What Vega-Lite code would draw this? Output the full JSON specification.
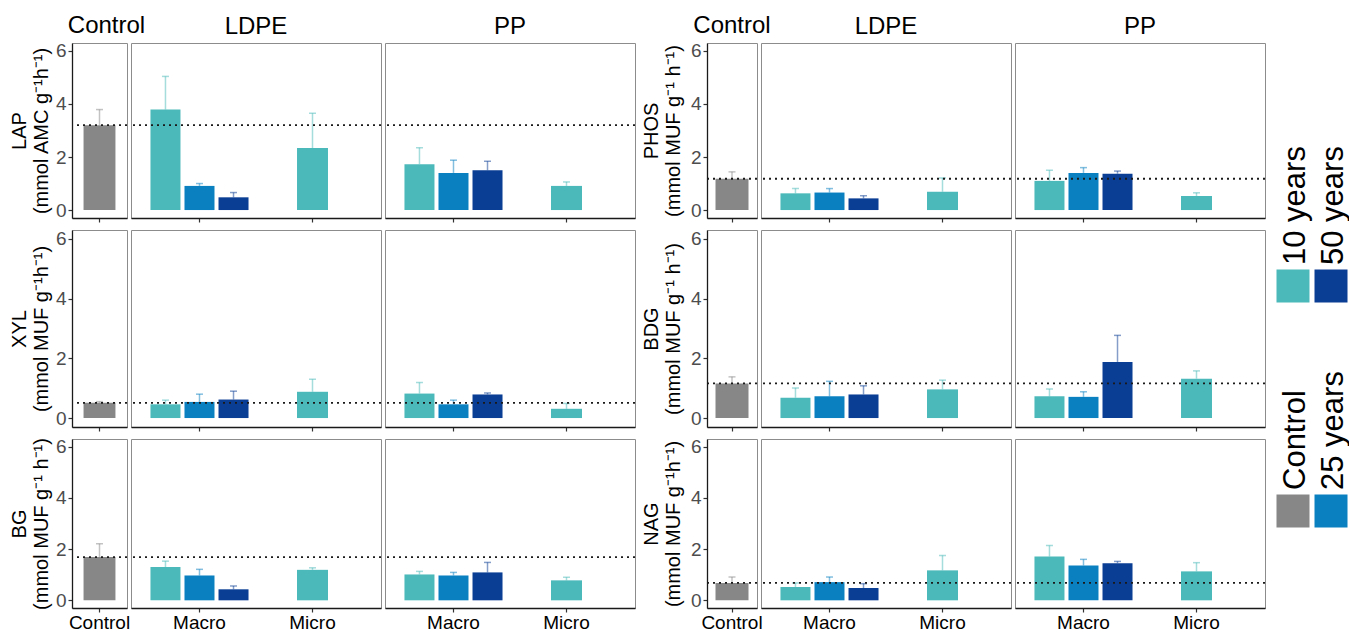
{
  "$schema": "https://vega.github.io/schema/vega-lite/v6.json",
  "padding": {"left": 8, "top": 13, "right": 0, "bottom": 0},
  "background": "white",
  "datasets": {
    "bars": [
      {"enzyme":"LAP","plastic":"Control","size":"Control","age":"Control","mean":3.2,"upper":3.79},
      {"enzyme":"LAP","plastic":"LDPE","size":"Macro","age":"10 years","mean":3.79,"upper":5.04},
      {"enzyme":"LAP","plastic":"LDPE","size":"Macro","age":"25 years","mean":0.91,"upper":1.0},
      {"enzyme":"LAP","plastic":"LDPE","size":"Macro","age":"50 years","mean":0.48,"upper":0.66},
      {"enzyme":"LAP","plastic":"LDPE","size":"Micro","age":"10 years","mean":2.34,"upper":3.65},
      {"enzyme":"LAP","plastic":"PP","size":"Macro","age":"10 years","mean":1.73,"upper":2.35},
      {"enzyme":"LAP","plastic":"PP","size":"Macro","age":"25 years","mean":1.4,"upper":1.88},
      {"enzyme":"LAP","plastic":"PP","size":"Macro","age":"50 years","mean":1.5,"upper":1.84},
      {"enzyme":"LAP","plastic":"PP","size":"Micro","age":"10 years","mean":0.91,"upper":1.06},
      {"enzyme":"PHOS","plastic":"Control","size":"Control","age":"Control","mean":1.18,"upper":1.44},
      {"enzyme":"PHOS","plastic":"LDPE","size":"Macro","age":"10 years","mean":0.63,"upper":0.81},
      {"enzyme":"PHOS","plastic":"LDPE","size":"Macro","age":"25 years","mean":0.66,"upper":0.81},
      {"enzyme":"PHOS","plastic":"LDPE","size":"Macro","age":"50 years","mean":0.44,"upper":0.54},
      {"enzyme":"PHOS","plastic":"LDPE","size":"Micro","age":"10 years","mean":0.69,"upper":1.21},
      {"enzyme":"PHOS","plastic":"PP","size":"Macro","age":"10 years","mean":1.1,"upper":1.5},
      {"enzyme":"PHOS","plastic":"PP","size":"Macro","age":"25 years","mean":1.4,"upper":1.6},
      {"enzyme":"PHOS","plastic":"PP","size":"Macro","age":"50 years","mean":1.37,"upper":1.47},
      {"enzyme":"PHOS","plastic":"PP","size":"Micro","age":"10 years","mean":0.53,"upper":0.65},
      {"enzyme":"XYL","plastic":"Control","size":"Control","age":"Control","mean":0.51,"upper":0.55},
      {"enzyme":"XYL","plastic":"LDPE","size":"Macro","age":"10 years","mean":0.46,"upper":0.6},
      {"enzyme":"XYL","plastic":"LDPE","size":"Macro","age":"25 years","mean":0.54,"upper":0.8},
      {"enzyme":"XYL","plastic":"LDPE","size":"Macro","age":"50 years","mean":0.62,"upper":0.9},
      {"enzyme":"XYL","plastic":"LDPE","size":"Micro","age":"10 years","mean":0.88,"upper":1.3},
      {"enzyme":"XYL","plastic":"PP","size":"Macro","age":"10 years","mean":0.82,"upper":1.19},
      {"enzyme":"XYL","plastic":"PP","size":"Macro","age":"25 years","mean":0.46,"upper":0.6},
      {"enzyme":"XYL","plastic":"PP","size":"Macro","age":"50 years","mean":0.79,"upper":0.84},
      {"enzyme":"XYL","plastic":"PP","size":"Micro","age":"10 years","mean":0.31,"upper":0.49},
      {"enzyme":"BDG","plastic":"Control","size":"Control","age":"Control","mean":1.16,"upper":1.38},
      {"enzyme":"BDG","plastic":"LDPE","size":"Macro","age":"10 years","mean":0.68,"upper":1.01},
      {"enzyme":"BDG","plastic":"LDPE","size":"Macro","age":"25 years","mean":0.73,"upper":1.23},
      {"enzyme":"BDG","plastic":"LDPE","size":"Macro","age":"50 years","mean":0.79,"upper":1.08},
      {"enzyme":"BDG","plastic":"LDPE","size":"Micro","age":"10 years","mean":0.96,"upper":1.27},
      {"enzyme":"BDG","plastic":"PP","size":"Macro","age":"10 years","mean":0.73,"upper":0.97},
      {"enzyme":"BDG","plastic":"PP","size":"Macro","age":"25 years","mean":0.71,"upper":0.88},
      {"enzyme":"BDG","plastic":"PP","size":"Macro","age":"50 years","mean":1.88,"upper":2.77},
      {"enzyme":"BDG","plastic":"PP","size":"Micro","age":"10 years","mean":1.32,"upper":1.58},
      {"enzyme":"BG","plastic":"Control","size":"Control","age":"Control","mean":1.69,"upper":2.21},
      {"enzyme":"BG","plastic":"LDPE","size":"Macro","age":"10 years","mean":1.3,"upper":1.53},
      {"enzyme":"BG","plastic":"LDPE","size":"Macro","age":"25 years","mean":0.97,"upper":1.21},
      {"enzyme":"BG","plastic":"LDPE","size":"Macro","age":"50 years","mean":0.43,"upper":0.56},
      {"enzyme":"BG","plastic":"LDPE","size":"Micro","age":"10 years","mean":1.19,"upper":1.27},
      {"enzyme":"BG","plastic":"PP","size":"Macro","age":"10 years","mean":1.01,"upper":1.13},
      {"enzyme":"BG","plastic":"PP","size":"Macro","age":"25 years","mean":0.97,"upper":1.09},
      {"enzyme":"BG","plastic":"PP","size":"Macro","age":"50 years","mean":1.09,"upper":1.48},
      {"enzyme":"BG","plastic":"PP","size":"Micro","age":"10 years","mean":0.78,"upper":0.9},
      {"enzyme":"NAG","plastic":"Control","size":"Control","age":"Control","mean":0.68,"upper":0.91},
      {"enzyme":"NAG","plastic":"LDPE","size":"Macro","age":"10 years","mean":0.52,"upper":0.68},
      {"enzyme":"NAG","plastic":"LDPE","size":"Macro","age":"25 years","mean":0.71,"upper":0.91},
      {"enzyme":"NAG","plastic":"LDPE","size":"Macro","age":"50 years","mean":0.48,"upper":0.65},
      {"enzyme":"NAG","plastic":"LDPE","size":"Micro","age":"10 years","mean":1.17,"upper":1.75},
      {"enzyme":"NAG","plastic":"PP","size":"Macro","age":"10 years","mean":1.71,"upper":2.14},
      {"enzyme":"NAG","plastic":"PP","size":"Macro","age":"25 years","mean":1.36,"upper":1.6},
      {"enzyme":"NAG","plastic":"PP","size":"Macro","age":"50 years","mean":1.45,"upper":1.52},
      {"enzyme":"NAG","plastic":"PP","size":"Micro","age":"10 years","mean":1.13,"upper":1.47}
    ],
    "legend": [
      {"age":"10 years"},
      {"age":"50 years"},
      {"age":"Control"},
      {"age":"25 years"}
    ]
  },
  "columns": 8,
  "bounds": "flush",
  "spacing": {"row": 12, "column": 4},
  "resolve": {"scale": {"xOffset": "independent", "color": "shared"}},
  "concat": [
    {
      "title": {"text": "Control", "dx": 7},
      "width": 55, "height": 175,
      "data": {"name": "bars"},
      "transform": [{"filter": "datum.enzyme == 'LAP' && datum.plastic == 'Control'"}],
      "encoding": {"y": {"field": "mean", "type": "quantitative", "scale": {"domain": [-0.3, 6.3], "nice": false, "zero": false}, "axis": {"title": ["LAP", "(mmol AMC g⁻¹h⁻¹)"], "values": [0, 2, 4, 6]}}},
      "layer": [
        {"encoding": {"x": {"field": "size", "type": "nominal", "title": null, "scale": {"domain": ["Control"], "paddingInner": 0, "paddingOuter": 0}, "axis": {"labels": false}},
                      "color": {"field": "age", "type": "nominal", "scale": {"domain": ["Control","10 years","25 years","50 years"], "range": ["#878787","#4BB9BA","#0A80C1","#0A3D94"]}, "legend": null}},
         "layer": [
           {"mark": {"type": "bar", "width": {"band": 0.58}}, "encoding": {"y2": {"datum": 0}}},
           {"mark": {"type": "rule", "strokeWidth": 1.5, "opacity": 0.5}, "encoding": {"y2": {"field": "upper"}}},
           {"mark": {"type": "tick", "size": 7, "thickness": 1.5, "opacity": 0.5}, "encoding": {"y": {"field": "upper", "type": "quantitative", "scale": {"domain": [-0.3, 6.3], "nice": false, "zero": false}, "axis": {"title": ["LAP", "(mmol AMC g⁻¹h⁻¹)"], "values": [0, 2, 4, 6]}}}}
         ]},
        {"mark": {"type": "rule", "strokeDash": [2, 4], "strokeWidth": 1.8, "color": "#1a1a1a"}, "encoding": {}}
      ]
    },
    {
      "title": "LDPE",
      "width": 250, "height": 175,
      "data": {"name": "bars"},
      "encoding": {"y": {"field": "mean", "type": "quantitative", "scale": {"domain": [-0.3, 6.3], "nice": false, "zero": false}, "axis": null}},
      "layer": [
        {"transform": [{"filter": "datum.enzyme == 'LAP' && datum.plastic == 'LDPE'"}],
         "encoding": {"x": {"field": "size", "type": "nominal", "title": null, "scale": {"domain": ["Macro","Micro"], "paddingInner": 0, "paddingOuter": 0.106}, "axis": {"labels": false}},
                      "color": {"field": "age", "type": "nominal", "scale": {"domain": ["Control","10 years","25 years","50 years"], "range": ["#878787","#4BB9BA","#0A80C1","#0A3D94"]}, "legend": null}},
         "layer": [
           {"transform": [{"filter": "datum.size == 'Macro'"}],
            "encoding": {"xOffset": {"field": "age", "type": "nominal", "scale": {"domain": ["10 years","25 years","50 years"], "paddingInner": 0.118, "paddingOuter": 0.22}}},
            "layer": [
              {"mark": {"type": "bar"}, "encoding": {"y2": {"datum": 0}}},
              {"mark": {"type": "rule", "strokeWidth": 1.5, "opacity": 0.5}, "encoding": {"y2": {"field": "upper"}}},
              {"mark": {"type": "tick", "size": 7, "thickness": 1.5, "opacity": 0.5}, "encoding": {"y": {"field": "upper", "type": "quantitative", "scale": {"domain": [-0.3, 6.3], "nice": false, "zero": false}, "axis": null}}}
            ]},
           {"transform": [{"filter": "datum.size == 'Micro'"}],
            "layer": [
              {"mark": {"type": "bar", "width": {"band": 0.274}}, "encoding": {"y2": {"datum": 0}}},
              {"mark": {"type": "rule", "strokeWidth": 1.5, "opacity": 0.5}, "encoding": {"y2": {"field": "upper"}}},
              {"mark": {"type": "tick", "size": 7, "thickness": 1.5, "opacity": 0.5}, "encoding": {"y": {"field": "upper", "type": "quantitative", "scale": {"domain": [-0.3, 6.3], "nice": false, "zero": false}, "axis": null}}}
            ]}
         ]},
        {"transform": [{"filter": "datum.enzyme == 'LAP' && datum.plastic == 'Control'"}],
         "mark": {"type": "rule", "strokeDash": [2, 4], "strokeWidth": 1.8, "color": "#1a1a1a"}, "encoding": {}}
      ]
    },
    {
      "title": "PP",
      "width": 250, "height": 175,
      "data": {"name": "bars"},
      "encoding": {"y": {"field": "mean", "type": "quantitative", "scale": {"domain": [-0.3, 6.3], "nice": false, "zero": false}, "axis": null}},
      "layer": [
        {"transform": [{"filter": "datum.enzyme == 'LAP' && datum.plastic == 'PP'"}],
         "encoding": {"x": {"field": "size", "type": "nominal", "title": null, "scale": {"domain": ["Macro","Micro"], "paddingInner": 0, "paddingOuter": 0.106}, "axis": {"labels": false}},
                      "color": {"field": "age", "type": "nominal", "scale": {"domain": ["Control","10 years","25 years","50 years"], "range": ["#878787","#4BB9BA","#0A80C1","#0A3D94"]}, "legend": null}},
         "layer": [
           {"transform": [{"filter": "datum.size == 'Macro'"}],
            "encoding": {"xOffset": {"field": "age", "type": "nominal", "scale": {"domain": ["10 years","25 years","50 years"], "paddingInner": 0.118, "paddingOuter": 0.22}}},
            "layer": [
              {"mark": {"type": "bar"}, "encoding": {"y2": {"datum": 0}}},
              {"mark": {"type": "rule", "strokeWidth": 1.5, "opacity": 0.5}, "encoding": {"y2": {"field": "upper"}}},
              {"mark": {"type": "tick", "size": 7, "thickness": 1.5, "opacity": 0.5}, "encoding": {"y": {"field": "upper", "type": "quantitative", "scale": {"domain": [-0.3, 6.3], "nice": false, "zero": false}, "axis": null}}}
            ]},
           {"transform": [{"filter": "datum.size == 'Micro'"}],
            "layer": [
              {"mark": {"type": "bar", "width": {"band": 0.274}}, "encoding": {"y2": {"datum": 0}}},
              {"mark": {"type": "rule", "strokeWidth": 1.5, "opacity": 0.5}, "encoding": {"y2": {"field": "upper"}}},
              {"mark": {"type": "tick", "size": 7, "thickness": 1.5, "opacity": 0.5}, "encoding": {"y": {"field": "upper", "type": "quantitative", "scale": {"domain": [-0.3, 6.3], "nice": false, "zero": false}, "axis": null}}}
            ]}
         ]},
        {"transform": [{"filter": "datum.enzyme == 'LAP' && datum.plastic == 'Control'"}],
         "mark": {"type": "rule", "strokeDash": [2, 4], "strokeWidth": 1.8, "color": "#1a1a1a"}, "encoding": {}}
      ]
    },
    {"width": 64, "height": 20, "view": {"stroke": null}, "data": {"values": []}, "mark": {"type": "point", "opacity": 0}, "encoding": {}},
    {
      "title": "Control",
      "width": 50, "height": 175,
      "data": {"name": "bars"},
      "transform": [{"filter": "datum.enzyme == 'PHOS' && datum.plastic == 'Control'"}],
      "encoding": {"y": {"field": "mean", "type": "quantitative", "scale": {"domain": [-0.3, 6.3], "nice": false, "zero": false}, "axis": {"title": ["PHOS", "(mmol MUF g⁻¹ h⁻¹)"], "values": [0, 2, 4, 6], "titlePadding": 7}}},
      "layer": [
        {"encoding": {"x": {"field": "size", "type": "nominal", "title": null, "scale": {"domain": ["Control"], "paddingInner": 0, "paddingOuter": 0}, "axis": {"labels": false}},
                      "color": {"field": "age", "type": "nominal", "scale": {"domain": ["Control","10 years","25 years","50 years"], "range": ["#878787","#4BB9BA","#0A80C1","#0A3D94"]}, "legend": null}},
         "layer": [
           {"mark": {"type": "bar", "width": {"band": 0.66}}, "encoding": {"y2": {"datum": 0}}},
           {"mark": {"type": "rule", "strokeWidth": 1.5, "opacity": 0.5}, "encoding": {"y2": {"field": "upper"}}},
           {"mark": {"type": "tick", "size": 7, "thickness": 1.5, "opacity": 0.5}, "encoding": {"y": {"field": "upper", "type": "quantitative", "scale": {"domain": [-0.3, 6.3], "nice": false, "zero": false}, "axis": {"title": ["PHOS", "(mmol MUF g⁻¹ h⁻¹)"], "values": [0, 2, 4, 6], "titlePadding": 7}}}}
         ]},
        {"mark": {"type": "rule", "strokeDash": [2, 4], "strokeWidth": 1.8, "color": "#1a1a1a"}, "encoding": {}}
      ]
    },
    {
      "title": "LDPE",
      "width": 250, "height": 175,
      "data": {"name": "bars"},
      "encoding": {"y": {"field": "mean", "type": "quantitative", "scale": {"domain": [-0.3, 6.3], "nice": false, "zero": false}, "axis": null}},
      "layer": [
        {"transform": [{"filter": "datum.enzyme == 'PHOS' && datum.plastic == 'LDPE'"}],
         "encoding": {"x": {"field": "size", "type": "nominal", "title": null, "scale": {"domain": ["Macro","Micro"], "paddingInner": 0, "paddingOuter": 0.106}, "axis": {"labels": false}},
                      "color": {"field": "age", "type": "nominal", "scale": {"domain": ["Control","10 years","25 years","50 years"], "range": ["#878787","#4BB9BA","#0A80C1","#0A3D94"]}, "legend": null}},
         "layer": [
           {"transform": [{"filter": "datum.size == 'Macro'"}],
            "encoding": {"xOffset": {"field": "age", "type": "nominal", "scale": {"domain": ["10 years","25 years","50 years"], "paddingInner": 0.118, "paddingOuter": 0.22}}},
            "layer": [
              {"mark": {"type": "bar"}, "encoding": {"y2": {"datum": 0}}},
              {"mark": {"type": "rule", "strokeWidth": 1.5, "opacity": 0.5}, "encoding": {"y2": {"field": "upper"}}},
              {"mark": {"type": "tick", "size": 7, "thickness": 1.5, "opacity": 0.5}, "encoding": {"y": {"field": "upper", "type": "quantitative", "scale": {"domain": [-0.3, 6.3], "nice": false, "zero": false}, "axis": null}}}
            ]},
           {"transform": [{"filter": "datum.size == 'Micro'"}],
            "layer": [
              {"mark": {"type": "bar", "width": {"band": 0.274}}, "encoding": {"y2": {"datum": 0}}},
              {"mark": {"type": "rule", "strokeWidth": 1.5, "opacity": 0.5}, "encoding": {"y2": {"field": "upper"}}},
              {"mark": {"type": "tick", "size": 7, "thickness": 1.5, "opacity": 0.5}, "encoding": {"y": {"field": "upper", "type": "quantitative", "scale": {"domain": [-0.3, 6.3], "nice": false, "zero": false}, "axis": null}}}
            ]}
         ]},
        {"transform": [{"filter": "datum.enzyme == 'PHOS' && datum.plastic == 'Control'"}],
         "mark": {"type": "rule", "strokeDash": [2, 4], "strokeWidth": 1.8, "color": "#1a1a1a"}, "encoding": {}}
      ]
    },
    {
      "title": "PP",
      "width": 250, "height": 175,
      "data": {"name": "bars"},
      "encoding": {"y": {"field": "mean", "type": "quantitative", "scale": {"domain": [-0.3, 6.3], "nice": false, "zero": false}, "axis": null}},
      "layer": [
        {"transform": [{"filter": "datum.enzyme == 'PHOS' && datum.plastic == 'PP'"}],
         "encoding": {"x": {"field": "size", "type": "nominal", "title": null, "scale": {"domain": ["Macro","Micro"], "paddingInner": 0, "paddingOuter": 0.106}, "axis": {"labels": false}},
                      "color": {"field": "age", "type": "nominal", "scale": {"domain": ["Control","10 years","25 years","50 years"], "range": ["#878787","#4BB9BA","#0A80C1","#0A3D94"]}, "legend": null}},
         "layer": [
           {"transform": [{"filter": "datum.size == 'Macro'"}],
            "encoding": {"xOffset": {"field": "age", "type": "nominal", "scale": {"domain": ["10 years","25 years","50 years"], "paddingInner": 0.118, "paddingOuter": 0.22}}},
            "layer": [
              {"mark": {"type": "bar"}, "encoding": {"y2": {"datum": 0}}},
              {"mark": {"type": "rule", "strokeWidth": 1.5, "opacity": 0.5}, "encoding": {"y2": {"field": "upper"}}},
              {"mark": {"type": "tick", "size": 7, "thickness": 1.5, "opacity": 0.5}, "encoding": {"y": {"field": "upper", "type": "quantitative", "scale": {"domain": [-0.3, 6.3], "nice": false, "zero": false}, "axis": null}}}
            ]},
           {"transform": [{"filter": "datum.size == 'Micro'"}],
            "layer": [
              {"mark": {"type": "bar", "width": {"band": 0.274}}, "encoding": {"y2": {"datum": 0}}},
              {"mark": {"type": "rule", "strokeWidth": 1.5, "opacity": 0.5}, "encoding": {"y2": {"field": "upper"}}},
              {"mark": {"type": "tick", "size": 7, "thickness": 1.5, "opacity": 0.5}, "encoding": {"y": {"field": "upper", "type": "quantitative", "scale": {"domain": [-0.3, 6.3], "nice": false, "zero": false}, "axis": null}}}
            ]}
         ]},
        {"transform": [{"filter": "datum.enzyme == 'PHOS' && datum.plastic == 'Control'"}],
         "mark": {"type": "rule", "strokeDash": [2, 4], "strokeWidth": 1.8, "color": "#1a1a1a"}, "encoding": {}}
      ]
    },
    {"width": 78, "height": 20, "view": {"stroke": null}, "data": {"values": []}, "mark": {"type": "point", "opacity": 0}, "encoding": {}},

    {
      "width": 55, "height": 197,
      "data": {"name": "bars"},
      "transform": [{"filter": "datum.enzyme == 'XYL' && datum.plastic == 'Control'"}],
      "encoding": {"y": {"field": "mean", "type": "quantitative", "scale": {"domain": [-0.3, 6.3], "nice": false, "zero": false}, "axis": {"title": ["XYL", "(mmol MUF g⁻¹h⁻¹)"], "values": [0, 2, 4, 6]}}},
      "layer": [
        {"encoding": {"x": {"field": "size", "type": "nominal", "title": null, "scale": {"domain": ["Control"], "paddingInner": 0, "paddingOuter": 0}, "axis": {"labels": false}},
                      "color": {"field": "age", "type": "nominal", "scale": {"domain": ["Control","10 years","25 years","50 years"], "range": ["#878787","#4BB9BA","#0A80C1","#0A3D94"]}, "legend": null}},
         "layer": [
           {"mark": {"type": "bar", "width": {"band": 0.58}}, "encoding": {"y2": {"datum": 0}}},
           {"mark": {"type": "rule", "strokeWidth": 1.5, "opacity": 0.5}, "encoding": {"y2": {"field": "upper"}}},
           {"mark": {"type": "tick", "size": 7, "thickness": 1.5, "opacity": 0.5}, "encoding": {"y": {"field": "upper", "type": "quantitative", "scale": {"domain": [-0.3, 6.3], "nice": false, "zero": false}, "axis": {"title": ["XYL", "(mmol MUF g⁻¹h⁻¹)"], "values": [0, 2, 4, 6]}}}}
         ]},
        {"mark": {"type": "rule", "strokeDash": [2, 4], "strokeWidth": 1.8, "color": "#1a1a1a"}, "encoding": {}}
      ]
    },
    {
      "width": 250, "height": 197,
      "data": {"name": "bars"},
      "encoding": {"y": {"field": "mean", "type": "quantitative", "scale": {"domain": [-0.3, 6.3], "nice": false, "zero": false}, "axis": null}},
      "layer": [
        {"transform": [{"filter": "datum.enzyme == 'XYL' && datum.plastic == 'LDPE'"}],
         "encoding": {"x": {"field": "size", "type": "nominal", "title": null, "scale": {"domain": ["Macro","Micro"], "paddingInner": 0, "paddingOuter": 0.106}, "axis": {"labels": false}},
                      "color": {"field": "age", "type": "nominal", "scale": {"domain": ["Control","10 years","25 years","50 years"], "range": ["#878787","#4BB9BA","#0A80C1","#0A3D94"]}, "legend": null}},
         "layer": [
           {"transform": [{"filter": "datum.size == 'Macro'"}],
            "encoding": {"xOffset": {"field": "age", "type": "nominal", "scale": {"domain": ["10 years","25 years","50 years"], "paddingInner": 0.118, "paddingOuter": 0.22}}},
            "layer": [
              {"mark": {"type": "bar"}, "encoding": {"y2": {"datum": 0}}},
              {"mark": {"type": "rule", "strokeWidth": 1.5, "opacity": 0.5}, "encoding": {"y2": {"field": "upper"}}},
              {"mark": {"type": "tick", "size": 7, "thickness": 1.5, "opacity": 0.5}, "encoding": {"y": {"field": "upper", "type": "quantitative", "scale": {"domain": [-0.3, 6.3], "nice": false, "zero": false}, "axis": null}}}
            ]},
           {"transform": [{"filter": "datum.size == 'Micro'"}],
            "layer": [
              {"mark": {"type": "bar", "width": {"band": 0.274}}, "encoding": {"y2": {"datum": 0}}},
              {"mark": {"type": "rule", "strokeWidth": 1.5, "opacity": 0.5}, "encoding": {"y2": {"field": "upper"}}},
              {"mark": {"type": "tick", "size": 7, "thickness": 1.5, "opacity": 0.5}, "encoding": {"y": {"field": "upper", "type": "quantitative", "scale": {"domain": [-0.3, 6.3], "nice": false, "zero": false}, "axis": null}}}
            ]}
         ]},
        {"transform": [{"filter": "datum.enzyme == 'XYL' && datum.plastic == 'Control'"}],
         "mark": {"type": "rule", "strokeDash": [2, 4], "strokeWidth": 1.8, "color": "#1a1a1a"}, "encoding": {}}
      ]
    },
    {
      "width": 250, "height": 197,
      "data": {"name": "bars"},
      "encoding": {"y": {"field": "mean", "type": "quantitative", "scale": {"domain": [-0.3, 6.3], "nice": false, "zero": false}, "axis": null}},
      "layer": [
        {"transform": [{"filter": "datum.enzyme == 'XYL' && datum.plastic == 'PP'"}],
         "encoding": {"x": {"field": "size", "type": "nominal", "title": null, "scale": {"domain": ["Macro","Micro"], "paddingInner": 0, "paddingOuter": 0.106}, "axis": {"labels": false}},
                      "color": {"field": "age", "type": "nominal", "scale": {"domain": ["Control","10 years","25 years","50 years"], "range": ["#878787","#4BB9BA","#0A80C1","#0A3D94"]}, "legend": null}},
         "layer": [
           {"transform": [{"filter": "datum.size == 'Macro'"}],
            "encoding": {"xOffset": {"field": "age", "type": "nominal", "scale": {"domain": ["10 years","25 years","50 years"], "paddingInner": 0.118, "paddingOuter": 0.22}}},
            "layer": [
              {"mark": {"type": "bar"}, "encoding": {"y2": {"datum": 0}}},
              {"mark": {"type": "rule", "strokeWidth": 1.5, "opacity": 0.5}, "encoding": {"y2": {"field": "upper"}}},
              {"mark": {"type": "tick", "size": 7, "thickness": 1.5, "opacity": 0.5}, "encoding": {"y": {"field": "upper", "type": "quantitative", "scale": {"domain": [-0.3, 6.3], "nice": false, "zero": false}, "axis": null}}}
            ]},
           {"transform": [{"filter": "datum.size == 'Micro'"}],
            "layer": [
              {"mark": {"type": "bar", "width": {"band": 0.274}}, "encoding": {"y2": {"datum": 0}}},
              {"mark": {"type": "rule", "strokeWidth": 1.5, "opacity": 0.5}, "encoding": {"y2": {"field": "upper"}}},
              {"mark": {"type": "tick", "size": 7, "thickness": 1.5, "opacity": 0.5}, "encoding": {"y": {"field": "upper", "type": "quantitative", "scale": {"domain": [-0.3, 6.3], "nice": false, "zero": false}, "axis": null}}}
            ]}
         ]},
        {"transform": [{"filter": "datum.enzyme == 'XYL' && datum.plastic == 'Control'"}],
         "mark": {"type": "rule", "strokeDash": [2, 4], "strokeWidth": 1.8, "color": "#1a1a1a"}, "encoding": {}}
      ]
    },
    {"width": 64, "height": 20, "view": {"stroke": null}, "data": {"values": []}, "mark": {"type": "point", "opacity": 0}, "encoding": {}},
    {
      "width": 50, "height": 197,
      "data": {"name": "bars"},
      "transform": [{"filter": "datum.enzyme == 'BDG' && datum.plastic == 'Control'"}],
      "encoding": {"y": {"field": "mean", "type": "quantitative", "scale": {"domain": [-0.3, 6.3], "nice": false, "zero": false}, "axis": {"title": ["BDG", "(mmol MUF g⁻¹ h⁻¹)"], "values": [0, 2, 4, 6], "titlePadding": 7}}},
      "layer": [
        {"encoding": {"x": {"field": "size", "type": "nominal", "title": null, "scale": {"domain": ["Control"], "paddingInner": 0, "paddingOuter": 0}, "axis": {"labels": false}},
                      "color": {"field": "age", "type": "nominal", "scale": {"domain": ["Control","10 years","25 years","50 years"], "range": ["#878787","#4BB9BA","#0A80C1","#0A3D94"]}, "legend": null}},
         "layer": [
           {"mark": {"type": "bar", "width": {"band": 0.66}}, "encoding": {"y2": {"datum": 0}}},
           {"mark": {"type": "rule", "strokeWidth": 1.5, "opacity": 0.5}, "encoding": {"y2": {"field": "upper"}}},
           {"mark": {"type": "tick", "size": 7, "thickness": 1.5, "opacity": 0.5}, "encoding": {"y": {"field": "upper", "type": "quantitative", "scale": {"domain": [-0.3, 6.3], "nice": false, "zero": false}, "axis": {"title": ["BDG", "(mmol MUF g⁻¹ h⁻¹)"], "values": [0, 2, 4, 6], "titlePadding": 7}}}}
         ]},
        {"mark": {"type": "rule", "strokeDash": [2, 4], "strokeWidth": 1.8, "color": "#1a1a1a"}, "encoding": {}}
      ]
    },
    {
      "width": 250, "height": 197,
      "data": {"name": "bars"},
      "encoding": {"y": {"field": "mean", "type": "quantitative", "scale": {"domain": [-0.3, 6.3], "nice": false, "zero": false}, "axis": null}},
      "layer": [
        {"transform": [{"filter": "datum.enzyme == 'BDG' && datum.plastic == 'LDPE'"}],
         "encoding": {"x": {"field": "size", "type": "nominal", "title": null, "scale": {"domain": ["Macro","Micro"], "paddingInner": 0, "paddingOuter": 0.106}, "axis": {"labels": false}},
                      "color": {"field": "age", "type": "nominal", "scale": {"domain": ["Control","10 years","25 years","50 years"], "range": ["#878787","#4BB9BA","#0A80C1","#0A3D94"]}, "legend": null}},
         "layer": [
           {"transform": [{"filter": "datum.size == 'Macro'"}],
            "encoding": {"xOffset": {"field": "age", "type": "nominal", "scale": {"domain": ["10 years","25 years","50 years"], "paddingInner": 0.118, "paddingOuter": 0.22}}},
            "layer": [
              {"mark": {"type": "bar"}, "encoding": {"y2": {"datum": 0}}},
              {"mark": {"type": "rule", "strokeWidth": 1.5, "opacity": 0.5}, "encoding": {"y2": {"field": "upper"}}},
              {"mark": {"type": "tick", "size": 7, "thickness": 1.5, "opacity": 0.5}, "encoding": {"y": {"field": "upper", "type": "quantitative", "scale": {"domain": [-0.3, 6.3], "nice": false, "zero": false}, "axis": null}}}
            ]},
           {"transform": [{"filter": "datum.size == 'Micro'"}],
            "layer": [
              {"mark": {"type": "bar", "width": {"band": 0.274}}, "encoding": {"y2": {"datum": 0}}},
              {"mark": {"type": "rule", "strokeWidth": 1.5, "opacity": 0.5}, "encoding": {"y2": {"field": "upper"}}},
              {"mark": {"type": "tick", "size": 7, "thickness": 1.5, "opacity": 0.5}, "encoding": {"y": {"field": "upper", "type": "quantitative", "scale": {"domain": [-0.3, 6.3], "nice": false, "zero": false}, "axis": null}}}
            ]}
         ]},
        {"transform": [{"filter": "datum.enzyme == 'BDG' && datum.plastic == 'Control'"}],
         "mark": {"type": "rule", "strokeDash": [2, 4], "strokeWidth": 1.8, "color": "#1a1a1a"}, "encoding": {}}
      ]
    },
    {
      "width": 250, "height": 197,
      "data": {"name": "bars"},
      "encoding": {"y": {"field": "mean", "type": "quantitative", "scale": {"domain": [-0.3, 6.3], "nice": false, "zero": false}, "axis": null}},
      "layer": [
        {"transform": [{"filter": "datum.enzyme == 'BDG' && datum.plastic == 'PP'"}],
         "encoding": {"x": {"field": "size", "type": "nominal", "title": null, "scale": {"domain": ["Macro","Micro"], "paddingInner": 0, "paddingOuter": 0.106}, "axis": {"labels": false}},
                      "color": {"field": "age", "type": "nominal", "scale": {"domain": ["Control","10 years","25 years","50 years"], "range": ["#878787","#4BB9BA","#0A80C1","#0A3D94"]}, "legend": null}},
         "layer": [
           {"transform": [{"filter": "datum.size == 'Macro'"}],
            "encoding": {"xOffset": {"field": "age", "type": "nominal", "scale": {"domain": ["10 years","25 years","50 years"], "paddingInner": 0.118, "paddingOuter": 0.22}}},
            "layer": [
              {"mark": {"type": "bar"}, "encoding": {"y2": {"datum": 0}}},
              {"mark": {"type": "rule", "strokeWidth": 1.5, "opacity": 0.5}, "encoding": {"y2": {"field": "upper"}}},
              {"mark": {"type": "tick", "size": 7, "thickness": 1.5, "opacity": 0.5}, "encoding": {"y": {"field": "upper", "type": "quantitative", "scale": {"domain": [-0.3, 6.3], "nice": false, "zero": false}, "axis": null}}}
            ]},
           {"transform": [{"filter": "datum.size == 'Micro'"}],
            "layer": [
              {"mark": {"type": "bar", "width": {"band": 0.274}}, "encoding": {"y2": {"datum": 0}}},
              {"mark": {"type": "rule", "strokeWidth": 1.5, "opacity": 0.5}, "encoding": {"y2": {"field": "upper"}}},
              {"mark": {"type": "tick", "size": 7, "thickness": 1.5, "opacity": 0.5}, "encoding": {"y": {"field": "upper", "type": "quantitative", "scale": {"domain": [-0.3, 6.3], "nice": false, "zero": false}, "axis": null}}}
            ]}
         ]},
        {"transform": [{"filter": "datum.enzyme == 'BDG' && datum.plastic == 'Control'"}],
         "mark": {"type": "rule", "strokeDash": [2, 4], "strokeWidth": 1.8, "color": "#1a1a1a"}, "encoding": {}}
      ]
    },
    {
      "width": 78, "height": 112, "view": {"stroke": null},
      "data": {"name": "legend"},
      "transform": [{"filter": {"field": "age", "oneOf": ["10 years", "50 years"]}}],
      "encoding": {"x": {"field": "age", "type": "nominal", "sort": ["10 years", "50 years"], "scale": {"padding": 0.526, "align": 0.6}, "axis": null}},
      "layer": [
        {"mark": {"type": "square", "size": 1089, "opacity": 1}, "encoding": {"color": {"field": "age", "type": "nominal", "scale": {"domain": ["Control","10 years","25 years","50 years"], "range": ["#878787","#4BB9BA","#0A80C1","#0A3D94"]}, "legend": null}}},
        {"mark": {"type": "text", "angle": 270, "align": "left", "baseline": "alphabetic", "dx": 21, "dy": 12, "fontSize": 31, "color": "#000000"}, "encoding": {"text": {"field": "age"}}}
      ]
    },

    {
      "width": 55, "height": 169,
      "data": {"name": "bars"},
      "transform": [{"filter": "datum.enzyme == 'BG' && datum.plastic == 'Control'"}],
      "encoding": {"y": {"field": "mean", "type": "quantitative", "scale": {"domain": [-0.3, 6.3], "nice": false, "zero": false}, "axis": {"title": ["BG", "(mmol MUF g⁻¹ h⁻¹)"], "values": [0, 2, 4, 6]}}},
      "layer": [
        {"encoding": {"x": {"field": "size", "type": "nominal", "title": null, "scale": {"domain": ["Control"], "paddingInner": 0, "paddingOuter": 0}, "axis": {"labels": true}},
                      "color": {"field": "age", "type": "nominal", "scale": {"domain": ["Control","10 years","25 years","50 years"], "range": ["#878787","#4BB9BA","#0A80C1","#0A3D94"]}, "legend": null}},
         "layer": [
           {"mark": {"type": "bar", "width": {"band": 0.58}}, "encoding": {"y2": {"datum": 0}}},
           {"mark": {"type": "rule", "strokeWidth": 1.5, "opacity": 0.5}, "encoding": {"y2": {"field": "upper"}}},
           {"mark": {"type": "tick", "size": 7, "thickness": 1.5, "opacity": 0.5}, "encoding": {"y": {"field": "upper", "type": "quantitative", "scale": {"domain": [-0.3, 6.3], "nice": false, "zero": false}, "axis": {"title": ["BG", "(mmol MUF g⁻¹ h⁻¹)"], "values": [0, 2, 4, 6]}}}}
         ]},
        {"mark": {"type": "rule", "strokeDash": [2, 4], "strokeWidth": 1.8, "color": "#1a1a1a"}, "encoding": {}}
      ]
    },
    {
      "width": 250, "height": 169,
      "data": {"name": "bars"},
      "encoding": {"y": {"field": "mean", "type": "quantitative", "scale": {"domain": [-0.3, 6.3], "nice": false, "zero": false}, "axis": null}},
      "layer": [
        {"transform": [{"filter": "datum.enzyme == 'BG' && datum.plastic == 'LDPE'"}],
         "encoding": {"x": {"field": "size", "type": "nominal", "title": null, "scale": {"domain": ["Macro","Micro"], "paddingInner": 0, "paddingOuter": 0.106}, "axis": {"labels": true}},
                      "color": {"field": "age", "type": "nominal", "scale": {"domain": ["Control","10 years","25 years","50 years"], "range": ["#878787","#4BB9BA","#0A80C1","#0A3D94"]}, "legend": null}},
         "layer": [
           {"transform": [{"filter": "datum.size == 'Macro'"}],
            "encoding": {"xOffset": {"field": "age", "type": "nominal", "scale": {"domain": ["10 years","25 years","50 years"], "paddingInner": 0.118, "paddingOuter": 0.22}}},
            "layer": [
              {"mark": {"type": "bar"}, "encoding": {"y2": {"datum": 0}}},
              {"mark": {"type": "rule", "strokeWidth": 1.5, "opacity": 0.5}, "encoding": {"y2": {"field": "upper"}}},
              {"mark": {"type": "tick", "size": 7, "thickness": 1.5, "opacity": 0.5}, "encoding": {"y": {"field": "upper", "type": "quantitative", "scale": {"domain": [-0.3, 6.3], "nice": false, "zero": false}, "axis": null}}}
            ]},
           {"transform": [{"filter": "datum.size == 'Micro'"}],
            "layer": [
              {"mark": {"type": "bar", "width": {"band": 0.274}}, "encoding": {"y2": {"datum": 0}}},
              {"mark": {"type": "rule", "strokeWidth": 1.5, "opacity": 0.5}, "encoding": {"y2": {"field": "upper"}}},
              {"mark": {"type": "tick", "size": 7, "thickness": 1.5, "opacity": 0.5}, "encoding": {"y": {"field": "upper", "type": "quantitative", "scale": {"domain": [-0.3, 6.3], "nice": false, "zero": false}, "axis": null}}}
            ]}
         ]},
        {"transform": [{"filter": "datum.enzyme == 'BG' && datum.plastic == 'Control'"}],
         "mark": {"type": "rule", "strokeDash": [2, 4], "strokeWidth": 1.8, "color": "#1a1a1a"}, "encoding": {}}
      ]
    },
    {
      "width": 250, "height": 169,
      "data": {"name": "bars"},
      "encoding": {"y": {"field": "mean", "type": "quantitative", "scale": {"domain": [-0.3, 6.3], "nice": false, "zero": false}, "axis": null}},
      "layer": [
        {"transform": [{"filter": "datum.enzyme == 'BG' && datum.plastic == 'PP'"}],
         "encoding": {"x": {"field": "size", "type": "nominal", "title": null, "scale": {"domain": ["Macro","Micro"], "paddingInner": 0, "paddingOuter": 0.106}, "axis": {"labels": true}},
                      "color": {"field": "age", "type": "nominal", "scale": {"domain": ["Control","10 years","25 years","50 years"], "range": ["#878787","#4BB9BA","#0A80C1","#0A3D94"]}, "legend": null}},
         "layer": [
           {"transform": [{"filter": "datum.size == 'Macro'"}],
            "encoding": {"xOffset": {"field": "age", "type": "nominal", "scale": {"domain": ["10 years","25 years","50 years"], "paddingInner": 0.118, "paddingOuter": 0.22}}},
            "layer": [
              {"mark": {"type": "bar"}, "encoding": {"y2": {"datum": 0}}},
              {"mark": {"type": "rule", "strokeWidth": 1.5, "opacity": 0.5}, "encoding": {"y2": {"field": "upper"}}},
              {"mark": {"type": "tick", "size": 7, "thickness": 1.5, "opacity": 0.5}, "encoding": {"y": {"field": "upper", "type": "quantitative", "scale": {"domain": [-0.3, 6.3], "nice": false, "zero": false}, "axis": null}}}
            ]},
           {"transform": [{"filter": "datum.size == 'Micro'"}],
            "layer": [
              {"mark": {"type": "bar", "width": {"band": 0.274}}, "encoding": {"y2": {"datum": 0}}},
              {"mark": {"type": "rule", "strokeWidth": 1.5, "opacity": 0.5}, "encoding": {"y2": {"field": "upper"}}},
              {"mark": {"type": "tick", "size": 7, "thickness": 1.5, "opacity": 0.5}, "encoding": {"y": {"field": "upper", "type": "quantitative", "scale": {"domain": [-0.3, 6.3], "nice": false, "zero": false}, "axis": null}}}
            ]}
         ]},
        {"transform": [{"filter": "datum.enzyme == 'BG' && datum.plastic == 'Control'"}],
         "mark": {"type": "rule", "strokeDash": [2, 4], "strokeWidth": 1.8, "color": "#1a1a1a"}, "encoding": {}}
      ]
    },
    {"width": 64, "height": 20, "view": {"stroke": null}, "data": {"values": []}, "mark": {"type": "point", "opacity": 0}, "encoding": {}},
    {
      "width": 50, "height": 169,
      "data": {"name": "bars"},
      "transform": [{"filter": "datum.enzyme == 'NAG' && datum.plastic == 'Control'"}],
      "encoding": {"y": {"field": "mean", "type": "quantitative", "scale": {"domain": [-0.3, 6.3], "nice": false, "zero": false}, "axis": {"title": ["NAG", "(mmol MUF g⁻¹h⁻¹)"], "values": [0, 2, 4, 6], "titlePadding": 7}}},
      "layer": [
        {"encoding": {"x": {"field": "size", "type": "nominal", "title": null, "scale": {"domain": ["Control"], "paddingInner": 0, "paddingOuter": 0}, "axis": {"labels": true}},
                      "color": {"field": "age", "type": "nominal", "scale": {"domain": ["Control","10 years","25 years","50 years"], "range": ["#878787","#4BB9BA","#0A80C1","#0A3D94"]}, "legend": null}},
         "layer": [
           {"mark": {"type": "bar", "width": {"band": 0.66}}, "encoding": {"y2": {"datum": 0}}},
           {"mark": {"type": "rule", "strokeWidth": 1.5, "opacity": 0.5}, "encoding": {"y2": {"field": "upper"}}},
           {"mark": {"type": "tick", "size": 7, "thickness": 1.5, "opacity": 0.5}, "encoding": {"y": {"field": "upper", "type": "quantitative", "scale": {"domain": [-0.3, 6.3], "nice": false, "zero": false}, "axis": {"title": ["NAG", "(mmol MUF g⁻¹h⁻¹)"], "values": [0, 2, 4, 6], "titlePadding": 7}}}}
         ]},
        {"mark": {"type": "rule", "strokeDash": [2, 4], "strokeWidth": 1.8, "color": "#1a1a1a"}, "encoding": {}}
      ]
    },
    {
      "width": 250, "height": 169,
      "data": {"name": "bars"},
      "encoding": {"y": {"field": "mean", "type": "quantitative", "scale": {"domain": [-0.3, 6.3], "nice": false, "zero": false}, "axis": null}},
      "layer": [
        {"transform": [{"filter": "datum.enzyme == 'NAG' && datum.plastic == 'LDPE'"}],
         "encoding": {"x": {"field": "size", "type": "nominal", "title": null, "scale": {"domain": ["Macro","Micro"], "paddingInner": 0, "paddingOuter": 0.106}, "axis": {"labels": true}},
                      "color": {"field": "age", "type": "nominal", "scale": {"domain": ["Control","10 years","25 years","50 years"], "range": ["#878787","#4BB9BA","#0A80C1","#0A3D94"]}, "legend": null}},
         "layer": [
           {"transform": [{"filter": "datum.size == 'Macro'"}],
            "encoding": {"xOffset": {"field": "age", "type": "nominal", "scale": {"domain": ["10 years","25 years","50 years"], "paddingInner": 0.118, "paddingOuter": 0.22}}},
            "layer": [
              {"mark": {"type": "bar"}, "encoding": {"y2": {"datum": 0}}},
              {"mark": {"type": "rule", "strokeWidth": 1.5, "opacity": 0.5}, "encoding": {"y2": {"field": "upper"}}},
              {"mark": {"type": "tick", "size": 7, "thickness": 1.5, "opacity": 0.5}, "encoding": {"y": {"field": "upper", "type": "quantitative", "scale": {"domain": [-0.3, 6.3], "nice": false, "zero": false}, "axis": null}}}
            ]},
           {"transform": [{"filter": "datum.size == 'Micro'"}],
            "layer": [
              {"mark": {"type": "bar", "width": {"band": 0.274}}, "encoding": {"y2": {"datum": 0}}},
              {"mark": {"type": "rule", "strokeWidth": 1.5, "opacity": 0.5}, "encoding": {"y2": {"field": "upper"}}},
              {"mark": {"type": "tick", "size": 7, "thickness": 1.5, "opacity": 0.5}, "encoding": {"y": {"field": "upper", "type": "quantitative", "scale": {"domain": [-0.3, 6.3], "nice": false, "zero": false}, "axis": null}}}
            ]}
         ]},
        {"transform": [{"filter": "datum.enzyme == 'NAG' && datum.plastic == 'Control'"}],
         "mark": {"type": "rule", "strokeDash": [2, 4], "strokeWidth": 1.8, "color": "#1a1a1a"}, "encoding": {}}
      ]
    },
    {
      "width": 250, "height": 169,
      "data": {"name": "bars"},
      "encoding": {"y": {"field": "mean", "type": "quantitative", "scale": {"domain": [-0.3, 6.3], "nice": false, "zero": false}, "axis": null}},
      "layer": [
        {"transform": [{"filter": "datum.enzyme == 'NAG' && datum.plastic == 'PP'"}],
         "encoding": {"x": {"field": "size", "type": "nominal", "title": null, "scale": {"domain": ["Macro","Micro"], "paddingInner": 0, "paddingOuter": 0.106}, "axis": {"labels": true}},
                      "color": {"field": "age", "type": "nominal", "scale": {"domain": ["Control","10 years","25 years","50 years"], "range": ["#878787","#4BB9BA","#0A80C1","#0A3D94"]}, "legend": null}},
         "layer": [
           {"transform": [{"filter": "datum.size == 'Macro'"}],
            "encoding": {"xOffset": {"field": "age", "type": "nominal", "scale": {"domain": ["10 years","25 years","50 years"], "paddingInner": 0.118, "paddingOuter": 0.22}}},
            "layer": [
              {"mark": {"type": "bar"}, "encoding": {"y2": {"datum": 0}}},
              {"mark": {"type": "rule", "strokeWidth": 1.5, "opacity": 0.5}, "encoding": {"y2": {"field": "upper"}}},
              {"mark": {"type": "tick", "size": 7, "thickness": 1.5, "opacity": 0.5}, "encoding": {"y": {"field": "upper", "type": "quantitative", "scale": {"domain": [-0.3, 6.3], "nice": false, "zero": false}, "axis": null}}}
            ]},
           {"transform": [{"filter": "datum.size == 'Micro'"}],
            "layer": [
              {"mark": {"type": "bar", "width": {"band": 0.274}}, "encoding": {"y2": {"datum": 0}}},
              {"mark": {"type": "rule", "strokeWidth": 1.5, "opacity": 0.5}, "encoding": {"y2": {"field": "upper"}}},
              {"mark": {"type": "tick", "size": 7, "thickness": 1.5, "opacity": 0.5}, "encoding": {"y": {"field": "upper", "type": "quantitative", "scale": {"domain": [-0.3, 6.3], "nice": false, "zero": false}, "axis": null}}}
            ]}
         ]},
        {"transform": [{"filter": "datum.enzyme == 'NAG' && datum.plastic == 'Control'"}],
         "mark": {"type": "rule", "strokeDash": [2, 4], "strokeWidth": 1.8, "color": "#1a1a1a"}, "encoding": {}}
      ]
    },
    {
      "width": 78, "height": 144, "view": {"stroke": null},
      "data": {"name": "legend"},
      "transform": [{"filter": {"field": "age", "oneOf": ["Control", "25 years"]}}],
      "encoding": {"x": {"field": "age", "type": "nominal", "sort": ["Control", "25 years"], "scale": {"padding": 0.526, "align": 0.6}, "axis": null}},
      "layer": [
        {"mark": {"type": "square", "size": 1089, "opacity": 1}, "encoding": {"color": {"field": "age", "type": "nominal", "scale": {"domain": ["Control","10 years","25 years","50 years"], "range": ["#878787","#4BB9BA","#0A80C1","#0A3D94"]}, "legend": null}}},
        {"mark": {"type": "text", "angle": 270, "align": "left", "baseline": "alphabetic", "dx": 21, "dy": 12, "fontSize": 31, "color": "#000000"}, "encoding": {"text": {"field": "age"}}}
      ]
    }
  ],
  "config": {
    "font": "Liberation Sans",
    "view": {"stroke": "#8c8c8c", "strokeWidth": 1},
    "legend": {"disable": true},
    "axis": {"grid": false, "domainColor": "#1a1a1a", "domainWidth": 1.3, "tickColor": "#333333", "tickWidth": 1.2, "tickSize": 4, "labelFont": "Liberation Sans", "titleFont": "Liberation Sans", "labelFontSize": 19, "labelColor": "#4d4d4d", "titleFontSize": 20, "titleFontWeight": "normal", "titleColor": "#000000", "titleLineHeight": 22, "titlePadding": 4, "labelPadding": 2},
    "axisX": {"labelColor": "#000000", "labelPadding": 1, "labelAngle": 0},
    "title": {"font": "Liberation Sans", "fontSize": 24, "fontWeight": "normal", "color": "#000000", "offset": 4, "frame": "group", "anchor": "middle"}
  }
}
